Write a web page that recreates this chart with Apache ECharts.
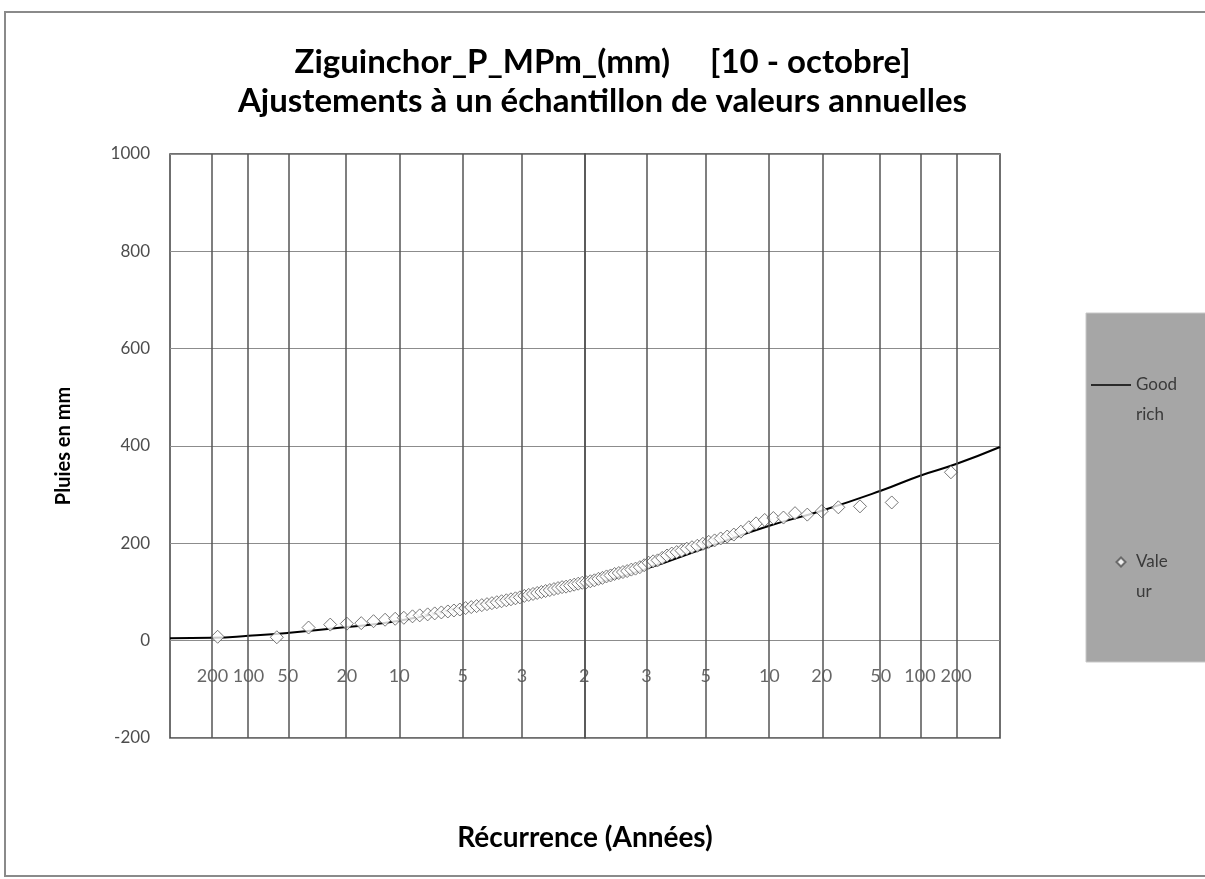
<!DOCTYPE html>
<html>
<head>
<meta charset="utf-8">
<script src="https://cdn.jsdelivr.net/npm/echarts@6/dist/echarts.min.js"></script>
<style>
html,body{margin:0;padding:0;background:#fff;}
#chart{width:1205px;height:879px;}
</style>
</head>
<body>
<div id="chart"></div>
<script>
var periodLabels = ['200','100','50','20','10','5','3','2','3','5','10','20','50','100','200'];
var periodZ = [-2.576,-2.326,-2.054,-1.645,-1.282,-0.842,-0.431,0,0.431,0.842,1.282,1.645,2.054,2.326,2.576];
var labelY = -72;

// Goodrich fitted curve (z, mm)
var fitZ = [-2.87,-2.576,-2.326,-2.054,-1.645,-1.282,-0.842,-0.431,0,0.431,0.842,1.282,1.645,2.054,2.326,2.576,2.88];
var fitV = [5,6,10,16,28,41,68,92,114,148,191,236,267,308,339,363,398];

// Observed annual values (z, mm)
var obsZ = [-2.54,-2.13,-1.91,-1.76,-1.645,-1.545,-1.46,-1.38,-1.31,-1.25,
  -1.19,-1.14,-1.085,-1.036,-0.99,-0.945,-0.903,-0.862,-0.822,-0.783,
  -0.746,-0.71,-0.674,-0.64,-0.606,-0.573,-0.54,-0.508,-0.477,-0.446,
  -0.415,-0.385,-0.355,-0.326,-0.297,-0.268,-0.239,-0.21,-0.182,-0.154,
  -0.126,-0.098,-0.07,-0.042,-0.014,0.014,0.042,0.07,0.098,0.126,
  0.154,0.182,0.21,0.239,0.268,0.297,0.326,0.355,0.385,0.415,
  0.446,0.477,0.508,0.54,0.573,0.606,0.64,0.674,0.71,0.746,
  0.783,0.822,0.862,0.903,0.945,0.99,1.036,1.085,1.14,1.19,
  1.25,1.31,1.38,1.46,1.545,1.645,1.76,1.91,2.13,2.54];
var obsV = [8,7,27,33,35,36,40,43,45,47,
  50,52,54,56,58,60,62,64,67,69,
  71,73,75,77,79,81,83,85,87,89,
  92,94,96,98,100,102,104,106,108,110,
  111,113,115,117,119,120,122,124,127,129,
  132,134,137,139,141,143,146,148,151,155,
  160,163,165,170,175,179,182,185,189,192,
  195,199,203,206,210,214,218,224,233,241,
  248,252,253,262,259,266,274,276,284,346];

var FONT = 'Lato, "Open Sans", sans-serif';

var chart = echarts.init(document.getElementById('chart'), null, {renderer:'canvas'});

var fitData = fitZ.map(function(z,i){return [z, fitV[i]];});
var obsData = obsZ.map(function(z,i){return [z, obsV[i]];});
var lblData = periodZ.map(function(z,i){return {value:[z, labelY], name: periodLabels[i]};});

var option = {
  backgroundColor: '#ffffff',
  animation: false,
  title: {
    text: 'Ziguinchor_P_MPm_(mm)     [10 - octobre]\nAjustements à un échantillon de valeurs annuelles',
    left: 'center',
    top: 38,
    textStyle: {fontFamily: FONT, fontSize: 33, fontWeight: 'bold', color: '#000', lineHeight: 39}
  },
  graphic: [
    {type:'rect', z: 0, shape:{x:5, y:12, width:1260, height:864}, style:{fill:'none', stroke:'#8a8a8a', lineWidth:2}, silent:true},
    {type:'rect', z: 0, shape:{x:1086, y:313, width:200, height:349}, style:{fill:'#a6a6a6', stroke:'#c8c8c8', lineWidth:1}, silent:true}
  ],
  legend: {
    orient: 'vertical',
    left: 1085,
    top: 335,
    padding: 5,
    itemGap: 87,
    itemWidth: 40,
    itemHeight: 10,
    z: 10,
    data: [
      {name: 'Goodrich', icon: 'path://M0,0 L40,0 L40,1.6 L0,1.6 Z'},
      {name: 'Valeur', icon: 'path://M0,0 L0,0 M40,10 L40,10 M30,0.5 L34.5,5 L30,9.5 L25.5,5 Z'}
    ],
    formatter: function(n){ return n === 'Goodrich' ? '\nGood\nrich' : '\nVale\nur'; },
    textStyle: {fontFamily: FONT, fontSize: 17, color: '#3a3a3a', lineHeight: 30}
  },
  grid: {
    left: 170, top: 154, width: 830, height: 584,
    show: true, borderColor: '#404040', borderWidth: 1.5, backgroundColor: 'transparent'
  },
  xAxis: {
    type: 'value', min: -2.87, max: 2.88,
    name: 'Récurrence (Années)', nameLocation: 'middle', nameGap: 86,
    nameTextStyle: {fontFamily: FONT, fontSize: 28, fontWeight: 'bold', color: '#000'},
    axisLine: {show: false}, axisTick: {show: false}, axisLabel: {show: false},
    splitLine: {show: false}
  },
  yAxis: {
    type: 'value', min: -200, max: 1000, interval: 200,
    name: 'Pluies en mm', nameLocation: 'middle', nameGap: 96, nameRotate: 90,
    nameTextStyle: {fontFamily: FONT, fontSize: 20, fontWeight: 'bold', color: '#000'},
    axisLine: {show: true, lineStyle: {color: '#404040', width: 1.5}},
    axisTick: {show: false},
    axisLabel: {fontFamily: FONT, fontSize: 17, color: '#4d4d4d', margin: 20,
      formatter: function(v){ return String(v); }},
    splitLine: {show: true, lineStyle: {color: '#8c8c8c', width: 1}}
  },
  series: [
    {
      name: 'periods', type: 'scatter', data: lblData, symbolSize: 1,
      itemStyle: {color: 'rgba(0,0,0,0)'}, z: 1, silent: true,
      label: {show: true, position: 'inside', formatter: function(p){return p.name;},
        fontFamily: FONT, fontSize: 18, color: '#404040'},
      markLine: {
        silent: true, symbol: ['none','none'], label: {show: false},
        lineStyle: {color: '#555555', width: 1.5, type: 'solid'},
        data: periodZ.map(function(z){return {xAxis: z};})
      }
    },
    {
      name: 'Goodrich', type: 'line', data: fitData, smooth: true, showSymbol: false, symbol: 'none',
      lineStyle: {color: '#000', width: 2}, itemStyle: {color: '#000'}, z: 3
    },
    {
      name: 'Valeur', type: 'scatter', data: obsData, symbol: 'diamond', symbolSize: 13,
      itemStyle: {color: '#ffffff', borderColor: '#555', borderWidth: 1}, z: 4
    }
  ]
};
chart.setOption(option);
</script>
</body>
</html>
